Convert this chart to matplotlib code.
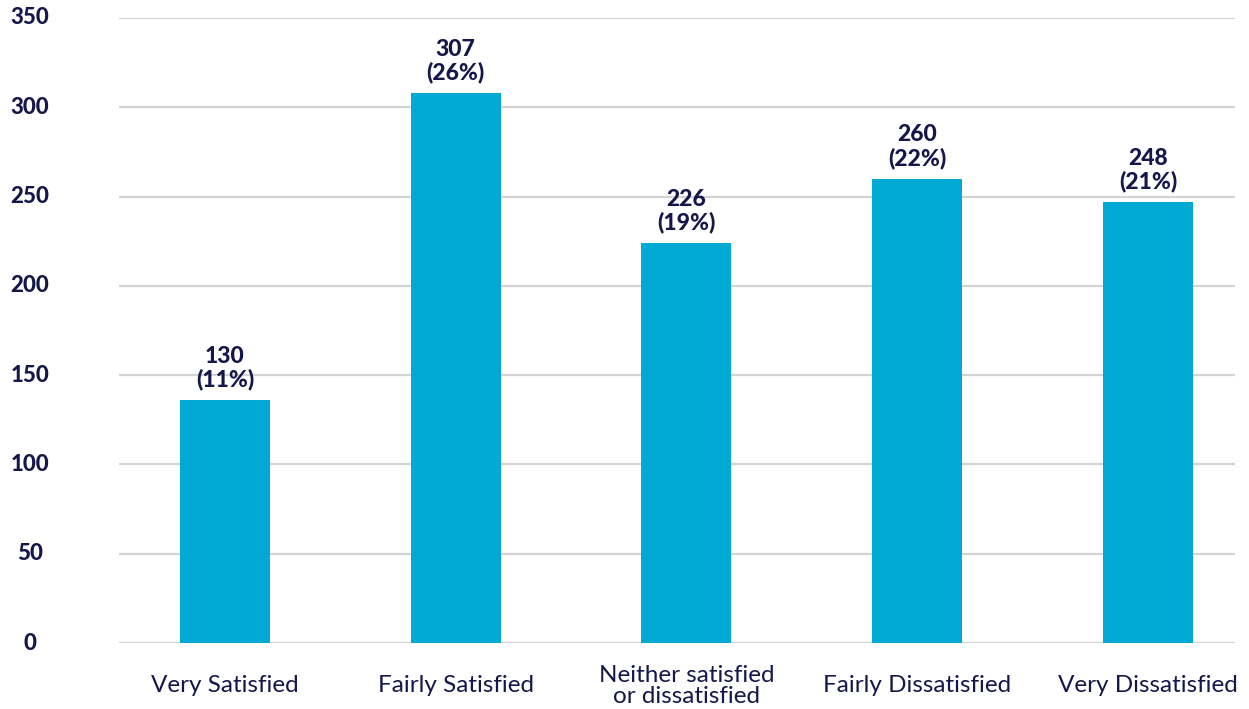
import matplotlib
matplotlib.use("Agg")
import matplotlib.pyplot as plt
from matplotlib.transforms import blended_transform_factory

categories = ["Very Satisfied", "Fairly Satisfied", "Neither satisfied\nor dissatisfied",
              "Fairly Dissatisfied", "Very Dissatisfied"]
bar_values = [136, 308, 224, 260, 247]
label_counts = [130, 307, 226, 260, 248]
label_pcts = ["11%", "26%", "19%", "22%", "21%"]
yticks = [0, 50, 100, 150, 200, 250, 300, 350]

BAR = "#00AAD4"
NAVY = "#15174A"
GRID = "#D3D3D3"

plt.rcParams['font.family'] = ['Lato', 'DejaVu Sans']

W, H = 1249, 709
fig = plt.figure(figsize=(W / 100, H / 100), dpi=100)
ax = fig.add_axes([119 / W, 66 / H, (1235 - 119) / W, (643 - 18) / H])

x = list(range(len(categories)))
ax.bar(x, bar_values, width=0.39, color=BAR, zorder=3)

ax.set_ylim(0, 350)
ax.set_xlim(-0.459, 4.377)
ax.set_yticks(yticks)
ax.set_yticklabels([])
ax.grid(axis='y', color=GRID, linewidth=1.6, zorder=0)
ax.set_xticks([])
for s in ax.spines.values():
    s.set_visible(False)
ax.tick_params(left=False, bottom=False)

# y tick labels centered at x ~ 30px
trans_y = blended_transform_factory(fig.transFigure, ax.transData)
for t in yticks:
    ax.text(30 / W, t, str(t), transform=trans_y, ha='center', va='center',
            fontsize=16, fontweight='black', color=NAVY)

# x labels
trans_x = blended_transform_factory(ax.transData, fig.transFigure)
for xi, c in zip(x, categories):
    ax.text(xi, (H - 686) / H, c, transform=trans_x, ha='center', va='center',
            fontsize=17.5, color=NAVY, linespacing=0.95)

# value labels
for xi, v, n, p in zip(x, bar_values, label_counts, label_pcts):
    ax.annotate(f"{n}\n({p})", (xi, v), xytext=(0, 7), textcoords='offset points',
                ha='center', va='bottom', fontsize=16.5, fontweight='black',
                color=NAVY, linespacing=1.1)

fig.savefig("out.png", dpi=100)
